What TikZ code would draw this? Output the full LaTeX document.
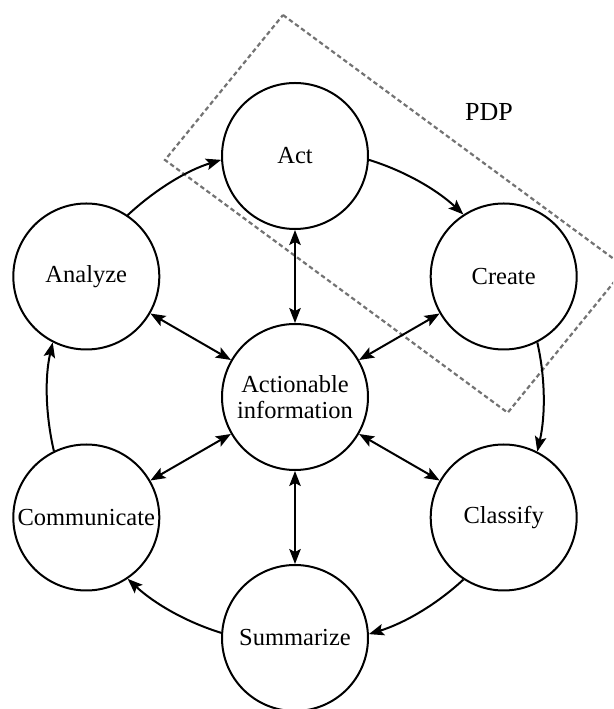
\documentclass[tikz,border=0pt]{standalone}
\usepackage{fontspec}
\setmainfont{Liberation Serif}
\usetikzlibrary{arrows.meta}
\begin{document}
\begin{tikzpicture}[x=1pt,y=1pt,
  stage/.style={circle,draw=black,line width=2pt,minimum size=146pt,inner sep=0pt,
    align=center,font=\fontsize{24.5}{26}\selectfont},
  flow/.style={line width=2pt,-{Stealth[length=15pt,width=11.5pt,inset=3pt]}},
  both/.style={line width=2pt,{Stealth[length=15pt,width=11.5pt,inset=3pt]}-{Stealth[length=15pt,width=11.5pt,inset=3pt]}},
  cyc/.style={flow,looseness=0.862},
  pdpbox/.style={draw=black!55,line width=2.2pt,dash pattern=on 4.5pt off 3pt}]
\clip (0,0) rectangle (613,709);
\node[stage] (c) at (295,312) {Actionable\\information};
\node[stage] (act) at (295,553) {Act};
\node[stage] (create) at (503.7,432.5) {Create};
\node[stage] (classify) at (503.7,191.5) {Classify};
\node[stage] (summ) at (295,71) {Summarize};
\node[stage] (comm) at (86.3,191.5) {Communicate};
\node[stage] (analyze) at (86.3,432.5) {Analyze};
% dashed PDP box
\coordinate (pt) at (283,694);
\coordinate (pl) at (165,549);
\coordinate (pb) at (507.7,296.3);
\coordinate (pr) at (625.7,441.3);
\draw[pdpbox] (pt) -- (pr) -- (pb) -- (pl) -- cycle;
\node[font=\fontsize{26}{30}\selectfont] (pdp) at (489,597) {PDP};
% cycle arrows (arcs about the centre, radius 248)
\draw[cyc] (analyze.56.93) to[out=42.91,in=197.09] (act.183.07);
\draw[cyc] (act.-3.07) to[out=-17.09,in=137.09] (create.123.07);
\draw[cyc] (create.-63.07) to[out=-77.09,in=77.09] (classify.63.07);
\draw[cyc] (classify.-123.07) to[out=-137.09,in=17.09] (summ.3.07);
\draw[cyc] (summ.176.93) to[out=162.91,in=-42.91] (comm.-56.93);
\draw[cyc] (comm.116.93) to[out=102.91,in=257.09] (analyze.243.07);
% radial double arrows
\draw[both] (c) -- (act);
\draw[both] (c) -- (create);
\draw[both] (c) -- (classify);
\draw[both] (c) -- (summ);
\draw[both] (c) -- (comm);
\draw[both] (c) -- (analyze);
\end{tikzpicture}
\end{document}
